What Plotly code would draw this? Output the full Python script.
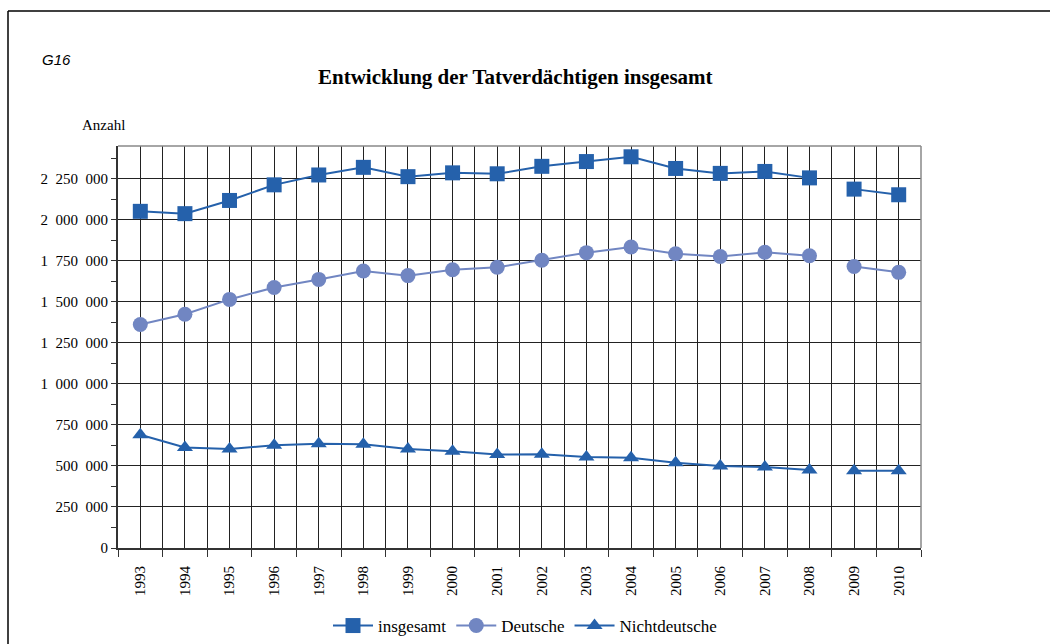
import plotly.graph_objects as go

years = list(range(1993, 2011))
insgesamt = [2051775, 2037729, 2118104, 2213293, 2273457, 2319895, 2263140, 2286372, 2280611,
             2326149, 2355161, 2384268, 2313136, 2283127, 2294883, 2255693, 2187217, 2152803]
nichtdeutsche = [689977, 612988, 603545, 625585, 636000, 632000, 603000, 590000, 570000,
                 572000, 555000, 550000, 520000, 500000, 493000, 475000, 471000, 471000]
deutsche = [1362000, 1425000, 1515000, 1588000, 1637000, 1688000, 1660000, 1696000, 1711000,
            1754000, 1800000, 1834000, 1793000, 1777000, 1802000, 1781000, 1716000, 1680000]
y_ticks = list(range(0, 2250001, 250000))
y_ticktext = ["{:,}".format(v).replace(",", "\u2007") for v in y_ticks]

series = [
    ("insgesamt", insgesamt, "#2561AB", "square", 15),
    ("Deutsche", deutsche, "#7186C2", "circle", 15),
    ("Nichtdeutsche", nichtdeutsche, "#2561AB", "triangle-up", 14),
]

# break between 2008 and 2009
split = years.index(2009)

fig = go.Figure()
for name, vals, color, sym, size in series:
    for part, (xs, ys) in enumerate([(years[:split], vals[:split]), (years[split:], vals[split:])]):
        fig.add_trace(go.Scatter(
            x=xs, y=ys, name=name, legendgroup=name, showlegend=(part == 0),
            mode="lines+markers",
            line=dict(color=color, width=2),
            marker=dict(symbol=sym, size=size, color=color),
        ))

L, R, T, B = 118, 921, 146, 548
W, H = 1050, 644
pw, ph = R - L, B - T

def px(x):
    return (x - L) / pw

def py(y):
    return (B - y) / ph

serif = "Liberation Serif, Times New Roman, serif"

fig.update_layout(
    width=W, height=H,
    margin=dict(l=L, r=W - R, t=T, b=H - B, autoexpand=False),
    paper_bgcolor="white", plot_bgcolor="white",
    font=dict(family=serif, size=13, color="black"),
    showlegend=True,
    legend=dict(orientation="h", x=0.5, xanchor="center", xref="container",
                y=(H - 626) / H, yanchor="middle", yref="container",
                font=dict(family=serif, size=17), itemwidth=40, tracegroupgap=0,
                bgcolor="rgba(0,0,0,0)"),
    annotations=[
        dict(text="<b>Entwicklung der Tatverdächtigen insgesamt</b>", x=px(515), y=py(77),
             xref="paper", yref="paper", showarrow=False, xanchor="center", yanchor="middle",
             font=dict(family=serif, size=21)),
        dict(text="<i>G16</i>", x=px(40), y=py(60), xref="paper", yref="paper", showarrow=False,
             xanchor="left", yanchor="middle",
             font=dict(family="Liberation Sans, Arial, sans-serif", size=15)),
        dict(text="Anzahl", x=px(80), y=py(125), xref="paper", yref="paper", showarrow=False,
             xanchor="left", yanchor="middle", font=dict(family=serif, size=15)),
    ],
    shapes=[
        dict(type="line", xref="paper", yref="paper", x0=px(8), x1=px(1060), y0=py(11), y1=py(11),
             line=dict(color="black", width=1.5), layer="below"),
        dict(type="line", xref="paper", yref="paper", x0=px(8), x1=px(8), y0=py(660), y1=py(11),
             line=dict(color="black", width=1.5), layer="below"),
        dict(type="line", xref="paper", yref="paper", x0=0, x1=1, y0=1, y1=1,
             line=dict(color="#888888", width=1.5)),
        dict(type="line", xref="paper", yref="paper", x0=1, x1=1, y0=0, y1=1,
             line=dict(color="#888888", width=1.5)),
    ],
)

fig.update_xaxes(
    range=[1992.5, 2010.5], automargin=False,
    tickvals=years, ticktext=[str(y) for y in years], tickangle=-90,
    ticks="", showgrid=True, gridcolor="#222222", gridwidth=1,
    showline=True, linecolor="#333333", linewidth=2, zeroline=False,
    tickfont=dict(family=serif, size=15), ticklabelstandoff=10,
    minor=dict(tickvals=[y + 0.5 for y in range(1992, 2011)], ticks="outside", ticklen=7,
               tickcolor="#333333", showgrid=True, gridcolor="#222222", gridwidth=1),
    fixedrange=True,
)
fig.update_yaxes(
    range=[0, 2450000], tickvals=y_ticks, ticktext=y_ticktext,
    automargin=False,
    ticks="outside", ticklen=5, tickcolor="#333333",
    showgrid=True, gridcolor="#222222", gridwidth=1,
    showline=True, linecolor="#333333", linewidth=2, zeroline=False,
    tickfont=dict(family=serif, size=15),
    minor=dict(tickvals=list(range(125000, 2450000, 250000)), ticks="outside", ticklen=5,
               tickcolor="#333333", showgrid=False),
    fixedrange=True,
)

fig.write_html("out.html", config={"displayModeBar": False},
               post_script="document.body.style.margin='0';document.body.style.overflow='hidden';"
                           "document.documentElement.style.overflow='hidden';")
